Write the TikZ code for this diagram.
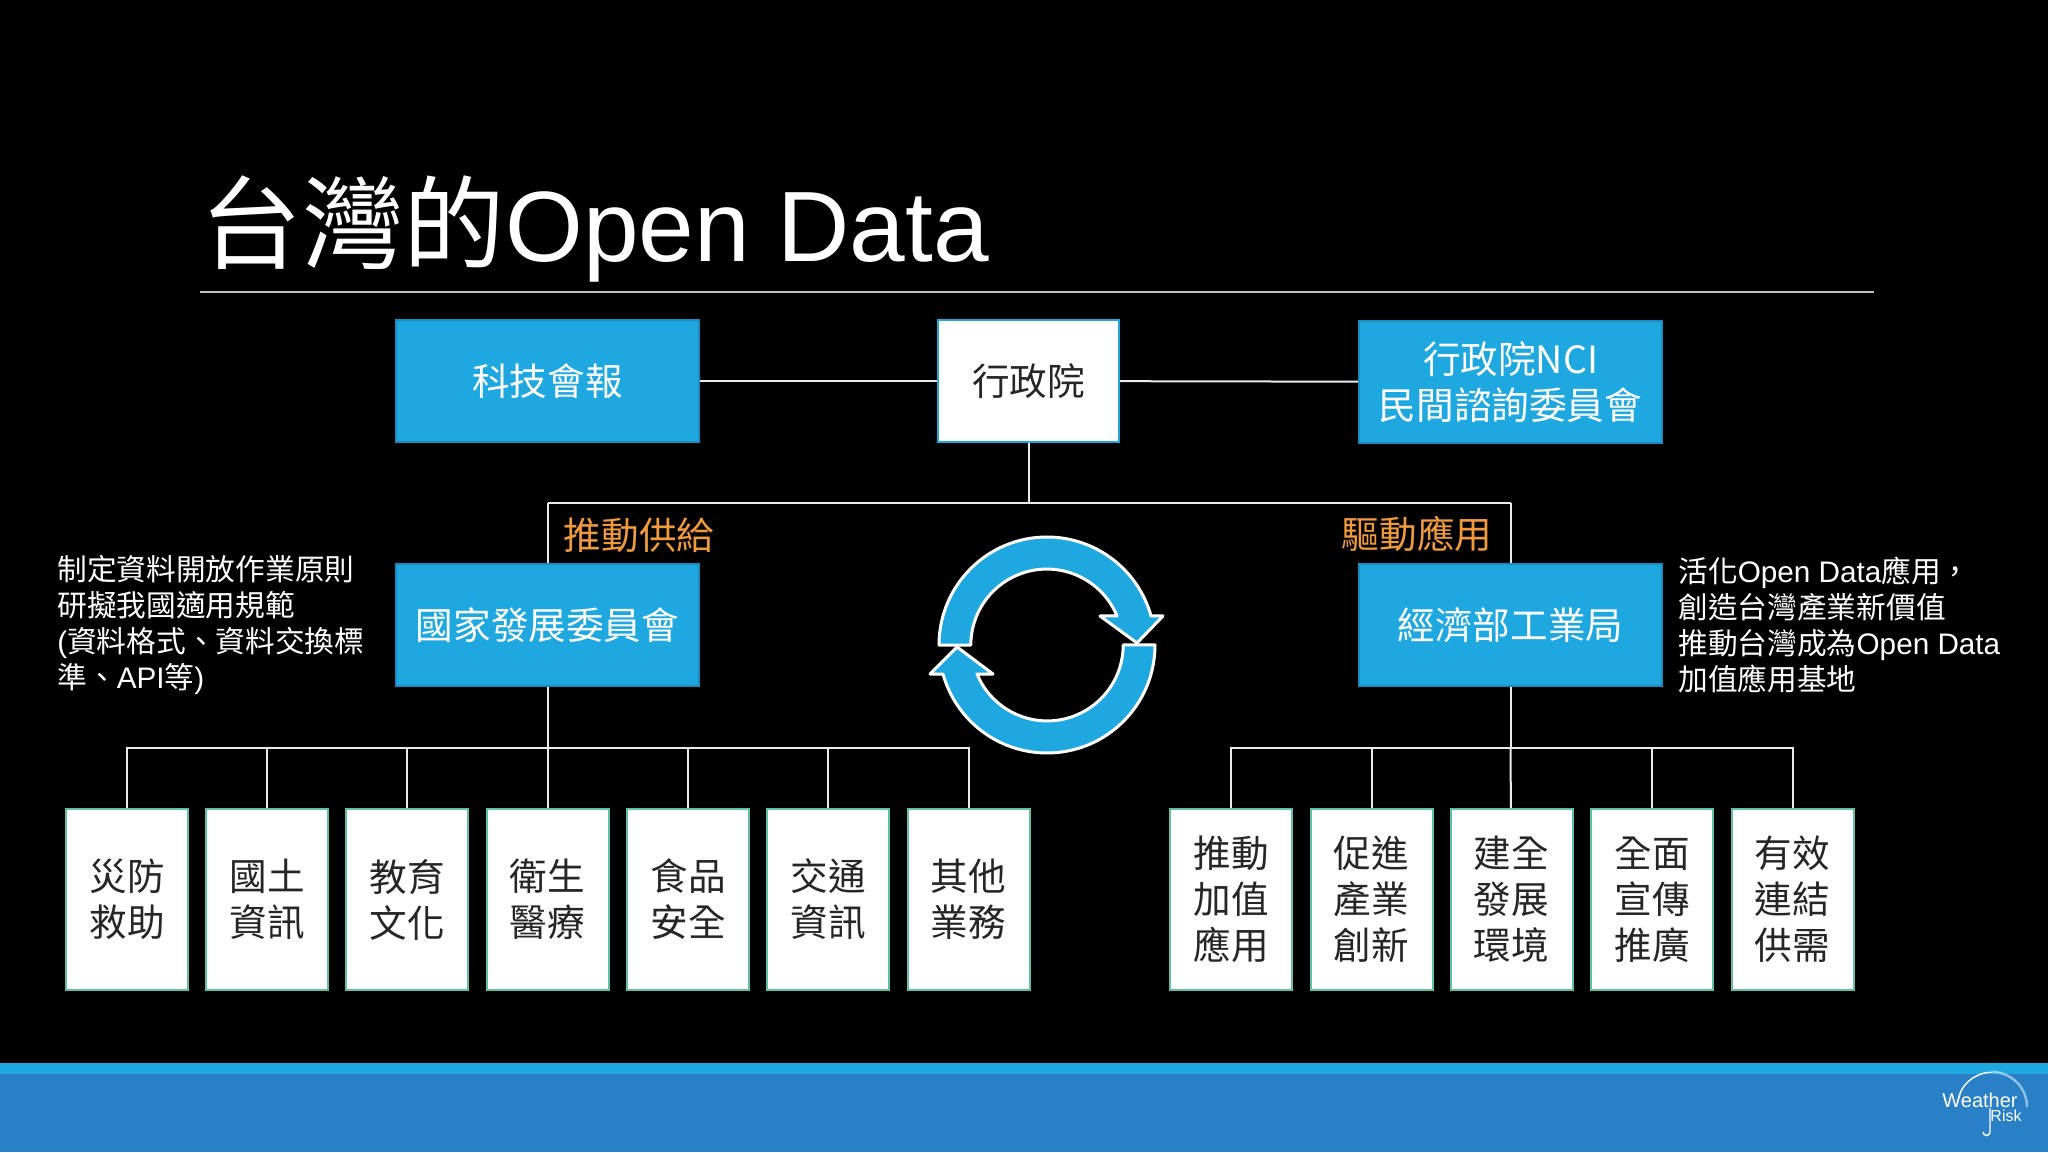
\documentclass[tikz,border=0pt]{standalone}
\usepackage{fontspec}
\setmainfont{Liberation Sans}
\newfontfamily\cjk{Noto Sans CJK TC}
\definecolor{skyblue}{HTML}{1FA8E0}
\definecolor{skyedge}{HTML}{1B8CC0}
\definecolor{leafedge}{HTML}{5FC0A8}
\definecolor{bandblue}{HTML}{2A80C6}
\definecolor{labelorange}{HTML}{F09A3E}
\tikzset{
  boxtext/.style={font=\cjk\fontsize{18.8}{23}\selectfont,align=center,inner sep=0pt},
  sidetext/.style={font=\fontsize{14.85}{18}\selectfont,align=left,text=white,inner sep=0pt,anchor=west},
  wire/.style={draw=white!92!black,line width=1pt}
}
\begin{document}
\begin{tikzpicture}[x=.5pt,y=.5pt]

      \useasboundingbox (0,0) rectangle (2048,1152);
      \fill[black] (0,0) rectangle (2048,1152);
      \fill[bandblue] (0,0) rectangle (2048,78);
      \fill[skyblue] (0,78) rectangle (2048,89);

      \node[font=\fontsize{50}{60}\selectfont,text=white,inner sep=0pt,anchor=west] (title) at (200,923) {{\cjk\fontsize{50.8}{60}\selectfont 台灣的}Open Data};
      \coordinate (ruleA) at (200,860);
      \coordinate (ruleB) at (1874,860);
      \draw[white!75!black,line width=.6pt] (ruleA) -- (ruleB);

      \begin{scope}[every node/.style={boxtext,fill=skyblue,draw=skyedge,line width=1pt,text=white,minimum width=151.5pt,minimum height=61pt}]
        \node (council)  at (547.5,771)  {科技會報};
        \node (nci)      at (1510.5,770) {行政院NCI\\民間諮詢委員會};
        \node (ndc)      at (547.5,527)  {國家發展委員會};
        \node (moea)     at (1510.5,527) {經濟部工業局};
      \end{scope}

      \node[boxtext,fill=white,draw=skyblue,line width=1pt,text=black!85,minimum width=90.5pt,minimum height=61pt] (ey) at (1028.5,771) {行政院};

      \begin{scope}[every node/.style={boxtext,fill=white,draw=leafedge,line width=1pt,text=black!85,minimum width=61pt,minimum height=90.5pt}]
        \node (l1) at (127,252.5)  {災防\\救助};
        \node (l2) at (267,252.5)  {國土\\資訊};
        \node (l3) at (407,252.5)  {教育\\文化};
        \node (l4) at (547.5,252.5)  {衛生\\醫療};
        \node (l5) at (688,252.5)  {食品\\安全};
        \node (l6) at (828,252.5)  {交通\\資訊};
        \node (l7) at (968.5,252.5)  {其他\\業務};
        \node (r1) at (1231,252.5) {推動\\加值\\應用};
        \node (r2) at (1371.5,252.5) {促進\\產業\\創新};
        \node (r3) at (1511.5,252.5) {建全\\發展\\環境};
        \node (r4) at (1652,252.5) {全面\\宣傳\\推廣};
        \node (r5) at (1792.5,252.5) {有效\\連結\\供需};
      \end{scope}

      \node[boxtext,text=labelorange] (push)  at (639,617)  {推動供給};
      \node[boxtext,text=labelorange] (drive) at (1417,618) {驅動應用};

      \node[sidetext] (leftnote)  at (57,527)   {{\cjk 制定資料開放作業原則}\\{\cjk 研擬我國適用規範}\\({\cjk 資料格式、資料交換標}\\{\cjk 準、}API{\cjk 等})};
      \node[sidetext] (rightnote) at (1678,527) {{\cjk 活化}Open Data{\cjk 應用，}\\{\cjk 創造台灣產業新價值}\\{\cjk 推動台灣成為}Open Data\\{\cjk 加值應用基地}};

      \coordinate (topL) at (547.5,649);
      \coordinate (topM) at (1028.5,649);
      \coordinate (topR) at (1510.5,649);
      \coordinate (busL) at (547.5,404);
      \coordinate (busR) at (1510.5,404);

      \begin{scope}[every edge/.style={wire}]
        \path (council) edge (ey);
        \path (ey) edge (nci);
        \path (ey) edge (topM);
        \path (topL) edge (topR);
        \path (topL) edge (ndc);
        \path (topR) edge (moea);
        \path (ndc) edge (busL);
        \path (moea) edge (busR);
        \path (busL) edge (l4);
        \path (busR) edge (r3);
        \path (l1.north) edge[to path={|- (\tikztotarget)}] (busL);
        \path (l2.north) edge[to path={|- (\tikztotarget)}] (busL);
        \path (l3.north) edge[to path={|- (\tikztotarget)}] (busL);
        \path (l5.north) edge[to path={|- (\tikztotarget)}] (busL);
        \path (l6.north) edge[to path={|- (\tikztotarget)}] (busL);
        \path (l7.north) edge[to path={|- (\tikztotarget)}] (busL);
        \path (r1.north) edge[to path={|- (\tikztotarget)}] (busR);
        \path (r2.north) edge[to path={|- (\tikztotarget)}] (busR);
        \path (r4.north) edge[to path={|- (\tikztotarget)}] (busR);
        \path (r5.north) edge[to path={|- (\tikztotarget)}] (busR);
      \end{scope}

      \begin{scope}[line width=1.5pt,line join=round]
        \filldraw[fill=skyblue,draw=white] (939,507) arc (180:15.6:108) -- (1163,536) -- (1137,509) -- (1100,536) -- (1117,536) arc (22.5:180:76) -- cycle;
        \filldraw[fill=skyblue,draw=white] (1155,507) arc (0:-164.4:108) -- (930,478) -- (957,505) -- (993,478) -- (977,478) arc (-157.5:0:76) -- cycle;
      \end{scope}

      \node[font=\fontsize{10}{12}\selectfont,text=white,inner sep=0pt] (weather) at (1980,52) {Weather};
      \node[font=\fontsize{8}{10}\selectfont,text=white,inner sep=0pt] (risk) at (2006,36) {Risk};
      \draw[white,line width=.7pt] (1960,59) arc (156:90:35);
      \draw[white,opacity=.5,line width=1.2pt] (1992,80) arc (90:0:35);
      \draw[white,line width=.7pt] (1990,44) -- (1990,20) arc (0:-180:3.5);

    \end{tikzpicture}
\end{document}
